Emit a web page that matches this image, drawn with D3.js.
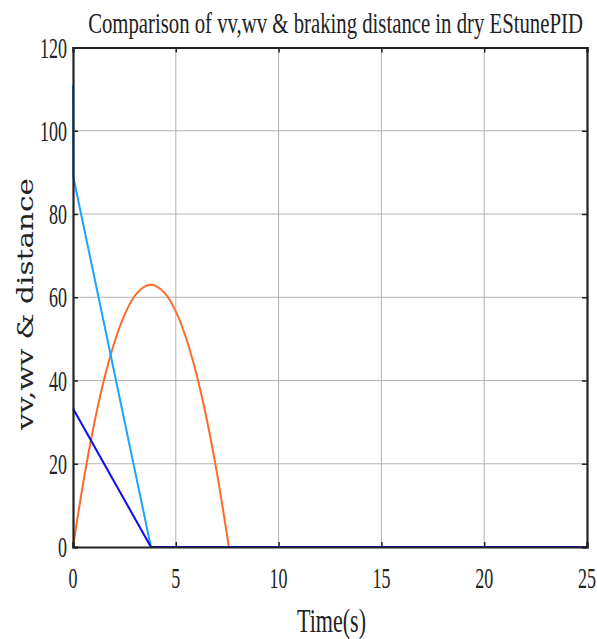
<!DOCTYPE html>
<html><head><meta charset="utf-8">
<script src="https://cdn.jsdelivr.net/npm/d3@7"></script>
<style>body{margin:0;background:#fff}svg{display:block}</style>
</head><body>
<script>
// ---- data ----
const title = "Comparison of vv,wv & braking distance in dry EStunePID";
const xLabel = "Time(s)";
const yLabel = "vv,wv & distance";
const xTicks = [0, 5, 10, 15, 20, 25];
const yTicks = [0, 20, 40, 60, 80, 100, 120];
// light blue series (time, value)
const vvT = [0, 0.01, 3.79, 25];
const vvV = [111, 89, 0, 0];
// dark blue series
const wvT = [0, 3.79, 25];
const wvV = [33.3, 0, 0];
// orange series (braking distance)
const distT = [0, 0.5, 1, 1.5, 2, 2.5, 3, 3.5, 3.79, 4, 4.5, 5, 5.5, 6, 6.5, 7, 7.5, 7.58];
const distV = [0, 15.5, 28.9, 40.0, 48.9, 55.7, 60.3, 62.6, 63.0, 62.8, 60.8, 56.6, 50.2, 41.6, 30.8, 17.8, 2.6, 0];
const distTailT = [7.58, 25];
const distTailV = [0, 0];

const W = 597, H = 639;
const m = {l: 73, r: 587, t: 47.5, b: 547};
const svg = d3.select("body").append("svg").attr("width", W).attr("height", H);
const x = d3.scaleLinear().domain([0, 25]).range([m.l, m.r]);
const y = d3.scaleLinear().domain([0, 120]).range([m.b, m.t]);

// grid
const g = svg.append("g");
g.selectAll(".gx").data(xTicks.slice(1, -1)).enter().append("line")
  .attr("x1", d => x(d)).attr("x2", d => x(d)).attr("y1", m.t).attr("y2", m.b)
  .attr("stroke", "#b3b3b3").attr("stroke-width", 1);
g.selectAll(".gy").data(yTicks.slice(1, -1)).enter().append("line")
  .attr("y1", d => y(d)).attr("y2", d => y(d)).attr("x1", m.l).attr("x2", m.r)
  .attr("stroke", "#b3b3b3").attr("stroke-width", 1);

// series
function series(T, V, col, curve) {
  const line = d3.line().x(d => x(d[0])).y(d => y(d[1])).curve(curve || d3.curveLinear);
  svg.append("path").datum(T.map((t, i) => [t, V[i]]))
    .attr("d", line).attr("fill", "none").attr("stroke", col).attr("stroke-width", 2);
}
series(distT, distV, "#ff6a2b", d3.curveCatmullRom);
series(distTailT, distTailV, "#ff6a2b");
series(vvT, vvV, "#1aa3ff");
series(wvT, wvV, "#0b0bf0");

// axes
const axB = svg.append("g").attr("transform", `translate(0,${m.b})`)
  .call(d3.axisBottom(x).tickValues(xTicks).tickSize(-5).tickFormat(""));
const axT = svg.append("g").attr("transform", `translate(0,${m.t})`)
  .call(d3.axisTop(x).tickValues(xTicks).tickSize(-5).tickFormat(""));
const axL = svg.append("g").attr("transform", `translate(${m.l},0)`)
  .call(d3.axisLeft(y).tickValues(yTicks).tickSize(-5).tickFormat(""));
const axR = svg.append("g").attr("transform", `translate(${m.r},0)`)
  .call(d3.axisRight(y).tickValues(yTicks).tickSize(-5).tickFormat(""));
[axB, axT, axL, axR].forEach(a => {
  a.selectAll("path.domain").attr("stroke", "#222").attr("stroke-width", 2.2);
  a.selectAll(".tick line").attr("stroke", "#222").attr("stroke-width", 1.5);
});

// condensed serif text helper
function ctext(str, cx, by, fs, sx, anchor) {
  return svg.append("text").text(str)
    .attr("transform", `translate(${cx},${by}) scale(${sx},1)`)
    .attr("text-anchor", anchor).attr("font-family", "Liberation Serif")
    .attr("font-size", fs).attr("fill", "#222");
}
xTicks.forEach(t => ctext(String(t), x(t), 588, 30, 0.6, "middle"));
yTicks.forEach(v => ctext(String(v), m.l - 6, y(v) + 10, 30, 0.6, "end"));

function fitText(str, cx, by, fs, target) {
  const t = ctext(str, cx, by, fs, 1, "middle");
  const len = t.node().getComputedTextLength();
  t.attr("transform", `translate(${cx},${by}) scale(${target / len},1)`);
}
fitText(title, 335.5, 33, 29, 495);
fitText(xLabel, 331.5, 632, 34, 69);

const yl = svg.append("text").text(yLabel)
  .attr("text-anchor", "middle").attr("font-family", "DejaVu Serif")
  .attr("font-size", 22).attr("fill", "#222");
const ylLen = yl.node().getComputedTextLength();
yl.attr("transform", `translate(33,${(178 + 430) / 2}) rotate(-90) scale(${252 / ylLen},1)`);
</script>
</body></html>
